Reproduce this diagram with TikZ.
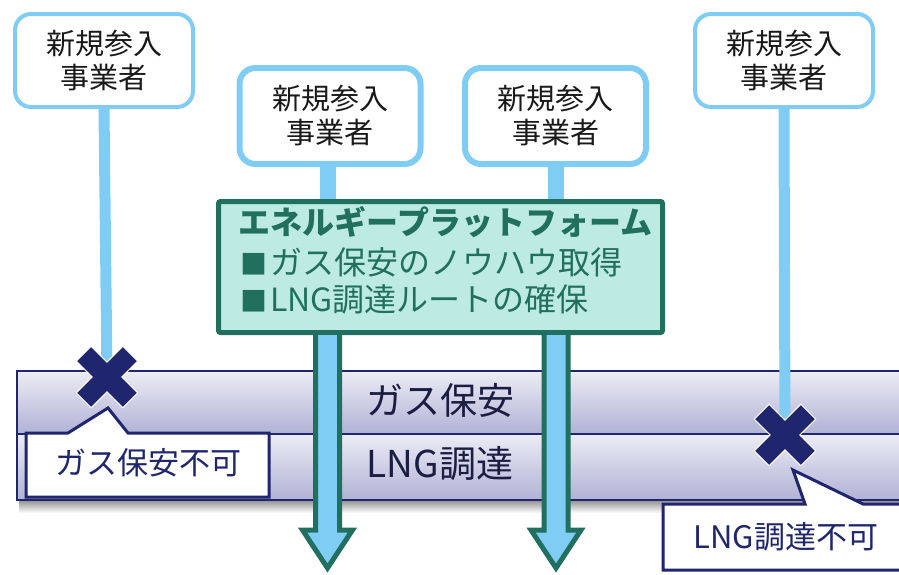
\documentclass[tikz,border=0pt]{standalone}
\usepackage{fontspec}
\newfontfamily\jp{Noto Sans CJK JP}
\usetikzlibrary{calc}
\definecolor{lblue}{RGB}{127,205,244}
\definecolor{tealdk}{RGB}{33,112,95}
\definecolor{pfill}{RGB}{189,235,228}
\definecolor{navy}{RGB}{31,38,110}
\definecolor{bandtop}{RGB}{236,236,245}
\definecolor{bandbot}{RGB}{176,178,213}
\definecolor{bandtext}{RGB}{27,30,66}
\definecolor{boxtext}{RGB}{25,25,25}
\newcommand{\sqbullet}{{\fontsize{27}{30}\selectfont ■}\hspace{3pt}}
\tikzset{
  entrant/.style={draw=lblue, fill=white, rounded corners=16pt, inner sep=0pt,
    align=center, text=boxtext, font=\jp\fontsize{29}{34}\selectfont},
  bandlbl/.style={text=bandtext, font=\jp\fontsize{37}{40}\selectfont, inner sep=0pt},
  calltext/.style={text=navy, font=\jp\fontsize{31}{34}\selectfont, inner sep=0pt},
  callout/.style={draw=navy, fill=white, line width=3pt, line join=miter},
  ptext/.style={text=tealdk, inner sep=0pt, font=\jp\fontsize{32}{34}\selectfont},
  barrow/.pic={
    \filldraw[fill=lblue, draw=tealdk, line width=5pt, line join=miter]
      (-12,2) -- (-12,197) -- (-25,197) -- (0,235) -- (25,197) -- (12,197) -- (12,2);
  },
  crossm/.pic={
    \filldraw[fill=navy, draw=white, line width=1pt, rotate=45]
      (-10.5,33) -- (10.5,33) -- (10.5,10.5) -- (33,10.5) -- (33,-10.5) -- (10.5,-10.5)
      -- (10.5,-33) -- (-10.5,-33) -- (-10.5,-10.5) -- (-33,-10.5) -- (-33,10.5)
      -- (-10.5,10.5) -- cycle;
  }
}
\begin{document}
\begin{tikzpicture}[x=1pt,y=-1pt]
\useasboundingbox (0,0) rectangle (899,574);

% band
\shade[top color=black!40, bottom color=white] (19,501) rectangle (905,513);
\shade[top color=bandtop, bottom color=bandbot] (17,371) rectangle (905,434);
\shade[top color=bandtop, bottom color=bandbot] (17,434) rectangle (905,500);
\draw[navy, line width=2.5pt] (905,371) -- (17,371) -- (17,500) -- (905,500);
\draw[navy, line width=2.5pt] (17,434) -- (905,434);
\node[bandlbl] (g) at (440,400) {ガス保安};
\node[bandlbl] (l) at (440,464) {LNG調達};

% entrant boxes
\node[entrant, line width=4pt, minimum width=178pt, minimum height=93pt] (b1) at (104,60.5) {新規参入\\事業者};
\node[entrant, line width=4pt, minimum width=178pt, minimum height=93pt] (b4) at (784,60.5) {新規参入\\事業者};
\node[entrant, line width=6pt, minimum width=181pt, minimum height=96pt] (b2) at (330,116) {新規参入\\事業者};
\node[entrant, line width=6pt, minimum width=181pt, minimum height=96pt] (b3) at (555.5,116) {新規参入\\事業者};

\coordinate (x1) at (107,377);
\coordinate (x2) at (785,435);
\coordinate (a1) at (327.5,333);
\coordinate (a2) at (556,333);

% platform
\node[draw=tealdk, fill=pfill, line width=5pt, minimum width=444pt, minimum height=131pt,
  rounded corners=2pt, inner sep=0pt] (pf) at (440.5,267) {};
\draw[lblue, line width=16pt] (b2.south -| a1) -- (pf.north -| a1);
\draw[lblue, line width=16pt] (b3.south -| a2) -- (pf.north -| a2);
\draw[lblue, line width=11pt] (b1.south) -- (x1);
\draw[lblue, line width=11pt] (b4.south) -- (x2);
\node[ptext, font=\jp\bfseries\fontsize{32}{34}\selectfont] (pt) at (445.5,222) {エネルギープラットフォーム};
\node[ptext, anchor=west] (p1) at (240,262) {\sqbullet ガス保安のノウハウ取得};
\node[ptext, anchor=west] (p2) at (240,299) {\sqbullet LNG調達ルートの確保};

% arrows
\pic at (a1) {barrow};
\pic at (a2) {barrow};

% callouts
\draw[callout] (26,433) -- (68,433) -- (108,408) -- (128,433) -- (269,433) -- (269,497) -- (26,497) -- cycle;
\node[calltext] (c1) at (148,463) {ガス保安不可};
\draw[callout] (663,504) -- (805,504) -- (793,470) -- (863,504) -- (905,504) -- (905,570) -- (663,570) -- cycle;
\node[calltext] (c2) at (786,537) {LNG調達不可};

% cross marks
\pic at (x1) {crossm};
\pic at (x2) {crossm};
\end{tikzpicture}
\end{document}
